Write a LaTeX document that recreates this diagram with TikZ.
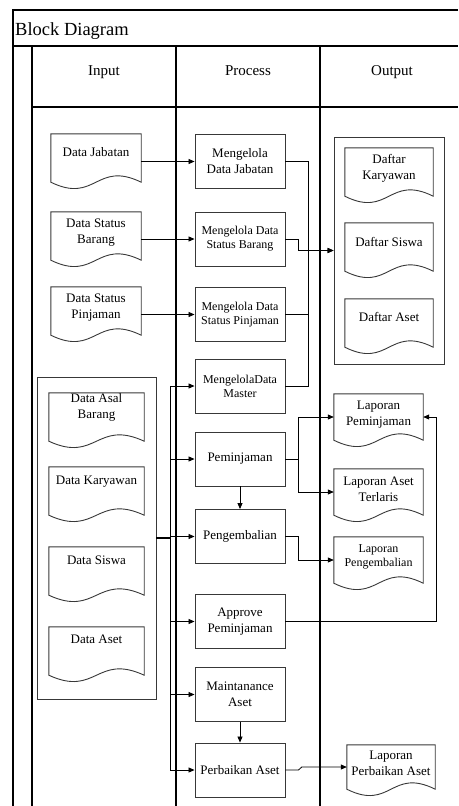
\documentclass[tikz,border=0pt]{standalone}
\usepackage{fontspec}
\setmainfont{Liberation Serif}
\newfontfamily\tnr{Liberation Serif}
\usetikzlibrary{arrows.meta,calc}
\definecolor{boxc}{gray}{0.22}
\newcommand\fsn{\tnr\fontsize{13}{16}\selectfont}
\newcommand\fss{\tnr\fontsize{12}{14}\selectfont}
\newcommand\fsh{\tnr\fontsize{15}{18}\selectfont}
\newcommand\fst{\tnr\fontsize{18.5}{22}\selectfont}
\newcommand\lift[2]{\raisebox{#1}[\height][\depth]{\begin{tabular}{@{}c@{}}#2\end{tabular}}}
\newcommand\docout[1]{\draw[docline] (#1.north west) -- (#1.north east) -- (#1.south east) .. controls ($(#1.south)+(0,-22)$) and ($(#1.south)+(0,22)$) .. (#1.south west) -- cycle;}
\tikzset{
 frame/.style={line width=1.3pt, black},
 pbox/.style={draw=boxc, line width=0.9pt, minimum width=90pt, minimum height=54pt, inner sep=1pt, align=center, font=\fsn},
 docnode/.style={inner sep=0pt, minimum width=90pt, minimum height=48pt, font=\fsn},
 docline/.style={draw=boxc, line width=0.9pt},
 grp/.style={draw=boxc, line width=0.9pt, inner sep=0pt},
 con/.style={line width=0.8pt, black},
 arr/.style={con, -{Triangle[length=6pt,width=5pt]}},
}
\begin{document}
\begin{tikzpicture}[x=1pt,y=-1pt]
\useasboundingbox (0,0) rectangle (458,806);
% frame
\draw[frame] (458,10) -- (13,10) -- (13,806);
\draw[frame] (13,46) -- (458,46);
\draw[frame] (32,46) -- (32,806);
\draw[frame] (176,46) -- (176,806);
\draw[frame] (320,46) -- (320,806);
\draw[frame] (32,107) -- (458,107);
\node[anchor=base west, font=\fst, inner sep=0pt] (title) at (15,35) {Block Diagram};
\node[anchor=base, font=\fsh] (hin) at (104,75) {Input};
\node[anchor=base, font=\fsh] (hpr) at (248,75) {Process};
\node[anchor=base, font=\fsh] (hout) at (392,75) {Output};
% groups
\node[grp, minimum width=119pt, minimum height=322pt] (ig) at (96.5,538) {};
\node[grp, minimum width=110pt, minimum height=227pt] (og) at (389,250.5) {};
% input docs
\node[docnode] (dj) at (96,158) {\lift{5pt}{Data Jabatan}}; \docout{dj}
\node[docnode] (dsb) at (96,236) {\lift{4pt}{Data Status\\Barang}}; \docout{dsb}
\node[docnode] (dsp) at (96,311) {\lift{4pt}{Data Status\\Pinjaman}}; \docout{dsp}
\node[docnode, minimum width=95pt] (dab) at (96.5,417) {\lift{10pt}{Data Asal\\Barang}}; \docout{dab}
\node[docnode, minimum width=95pt] (dk) at (96.5,491) {\lift{10pt}{Data Karyawan}}; \docout{dk}
\node[docnode, minimum width=95pt] (dsis) at (96.5,571) {\lift{10pt}{Data Siswa}}; \docout{dsis}
\node[docnode, minimum width=95pt] (da) at (96.5,651) {\lift{11pt}{Data Aset}}; \docout{da}
% output docs
\node[docnode, minimum width=88pt] (dkar) at (389,172) {\lift{4pt}{Daftar\\Karyawan}}; \docout{dkar}
\node[docnode, minimum width=88pt] (dsw) at (389,247) {\lift{4pt}{Daftar Siswa}}; \docout{dsw}
\node[docnode, minimum width=88pt] (dast) at (389,323) {\lift{5pt}{Daftar Aset}}; \docout{dast}
\node[docnode, minimum width=89pt, minimum height=46pt] (lp) at (378.5,417) {\lift{3pt}{Laporan\\Peminjaman}}; \docout{lp}
\node[docnode, minimum width=89pt, minimum height=46pt] (lat) at (378.5,492) {\lift{2pt}{Laporan Aset\\Terlaris}}; \docout{lat}
\node[docnode, minimum width=89pt, minimum height=46pt, font=\fss] (lpg) at (378.5,560) {\lift{3pt}{Laporan\\Pengembalian}}; \docout{lpg}
\node[docnode, minimum width=88pt, minimum height=44pt] (lpa) at (391,767) {\lift{3pt}{Laporan\\Perbaikan Aset}}; \docout{lpa}
% process boxes
\node[pbox] (pj) at (240,161.5) {Mengelola\\Data Jabatan};
\node[pbox, font=\fss] (psb) at (240,239) {Mengelola Data\\Status Barang};
\node[pbox, font=\fss] (psp) at (240,314.5) {Mengelola Data\\Status Pinjaman};
\node[pbox, font=\fss] (pm) at (240,386) {MengelolaData\\Master};
\node[pbox] (ppin) at (240,459) {Peminjaman};
\node[pbox] (ppeng) at (240,536.5) {Pengembalian};
\node[pbox] (papp) at (240,621.5) {Approve\\Peminjaman};
\node[pbox] (pmaint) at (240,694.5) {Maintanance\\Aset};
\node[pbox] (pperb) at (240,770) {Perbaikan Aset};
% helper coordinates
\coordinate (mx) at (308,0);
\coordinate (bus) at (170,0);
% input to process
\draw[arr] (pj.west -| dj.east) -- (pj.west);
\draw[arr] (psb.west -| dsb.east) -- (psb.west);
\draw[arr] (psp.west -| dsp.east) -- (psp.west);
% merge to output group
\draw[con] (pj.east) -- (pj.east -| mx) -- (pm.east -| mx) -- (pm.east);
\draw[con] (psp.east) -- (psp.east -| mx);
\draw[arr] (og.west -| mx) -- (og.west);
\draw[arr] (psb.east) -- ++(13,0) |- (og.west);
% bus from input group
\draw[con] (pm.west -| bus) -- (pperb.west -| bus);
\draw[con, line width=1.5pt] (ig.east) -- (ig.east -| bus);
\foreach \t in {pm,ppin,ppeng,papp,pmaint,pperb} {\draw[arr] (\t.west -| bus) -- (\t.west);}
% process to reports
\draw[arr] (ppin.east) -- ++(13,0) |- (lp.west);
\draw[arr] (ppin.east) -- ++(13,0) |- (lat.west);
\draw[arr] (ppin.south) -- (ppeng.north);
\draw[arr] (ppeng.east) -- ++(13,0) |- (lpg.west);
\draw[arr] (papp.east) -| ([xshift=13pt]lp.east) -- (lp.east);
\draw[arr] (pmaint.south) -- (pperb.north);
\draw[arr] (pperb.east) -- ++(13,0) -- ([xshift=-45pt]lpa.west) -- (lpa.west);
\end{tikzpicture}
\end{document}
